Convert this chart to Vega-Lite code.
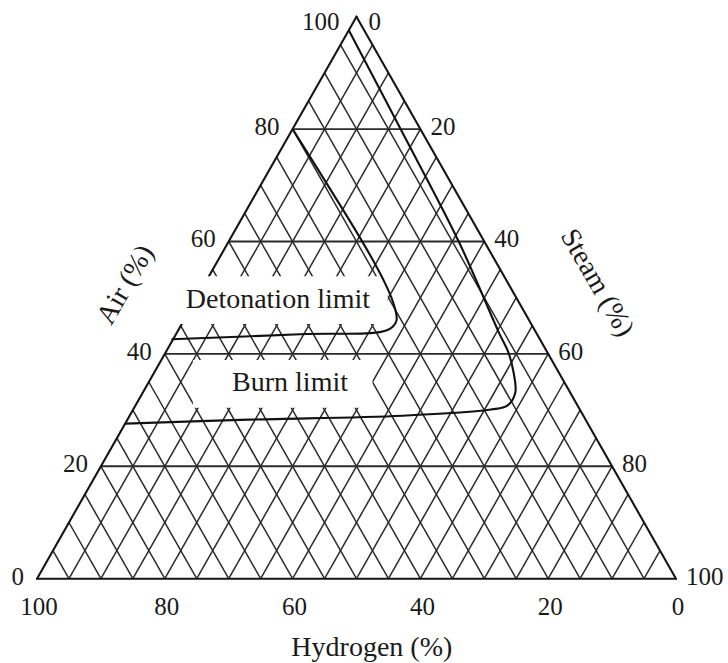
{
  "$schema": "https://vega.github.io/schema/vega-lite/v6.json",
  "width": 728,
  "height": 663,
  "padding": 0,
  "autosize": {"type": "none"},
  "background": "white",
  "config": {"view": {"stroke": null}, "text": {"font": "Liberation Serif", "color": "#1a1a1a"}},
  "datasets": {
    "grid": [
      {"x": 5, "y": 0, "x2": 52.5, "y2": 95},
      {"x": 10, "y": 0, "x2": 55, "y2": 90},
      {"x": 15, "y": 0, "x2": 57.5, "y2": 85},
      {"x": 20, "y": 0, "x2": 60, "y2": 80},
      {"x": 25, "y": 0, "x2": 62.5, "y2": 75},
      {"x": 30, "y": 0, "x2": 65, "y2": 70},
      {"x": 35, "y": 0, "x2": 67.5, "y2": 65},
      {"x": 40, "y": 0, "x2": 70, "y2": 60},
      {"x": 45, "y": 0, "x2": 72.5, "y2": 55},
      {"x": 50, "y": 0, "x2": 75, "y2": 50},
      {"x": 55, "y": 0, "x2": 77.5, "y2": 45},
      {"x": 60, "y": 0, "x2": 80, "y2": 40},
      {"x": 65, "y": 0, "x2": 82.5, "y2": 35},
      {"x": 70, "y": 0, "x2": 85, "y2": 30},
      {"x": 75, "y": 0, "x2": 87.5, "y2": 25},
      {"x": 80, "y": 0, "x2": 90, "y2": 20},
      {"x": 85, "y": 0, "x2": 92.5, "y2": 15},
      {"x": 90, "y": 0, "x2": 95, "y2": 10},
      {"x": 95, "y": 0, "x2": 97.5, "y2": 5},
      {"x": 5, "y": 0, "x2": 2.5, "y2": 5},
      {"x": 10, "y": 0, "x2": 5, "y2": 10},
      {"x": 15, "y": 0, "x2": 7.5, "y2": 15},
      {"x": 20, "y": 0, "x2": 10, "y2": 20},
      {"x": 25, "y": 0, "x2": 12.5, "y2": 25},
      {"x": 30, "y": 0, "x2": 15, "y2": 30},
      {"x": 35, "y": 0, "x2": 17.5, "y2": 35},
      {"x": 40, "y": 0, "x2": 20, "y2": 40},
      {"x": 45, "y": 0, "x2": 22.5, "y2": 45},
      {"x": 50, "y": 0, "x2": 25, "y2": 50},
      {"x": 55, "y": 0, "x2": 27.5, "y2": 55},
      {"x": 60, "y": 0, "x2": 30, "y2": 60},
      {"x": 65, "y": 0, "x2": 32.5, "y2": 65},
      {"x": 70, "y": 0, "x2": 35, "y2": 70},
      {"x": 75, "y": 0, "x2": 37.5, "y2": 75},
      {"x": 80, "y": 0, "x2": 40, "y2": 80},
      {"x": 85, "y": 0, "x2": 42.5, "y2": 85},
      {"x": 90, "y": 0, "x2": 45, "y2": 90},
      {"x": 95, "y": 0, "x2": 47.5, "y2": 95}
    ],
    "major": [
      {"x": 10, "y": 20, "x2": 90, "y2": 20},
      {"x": 20, "y": 40, "x2": 80, "y2": 40},
      {"x": 30, "y": 60, "x2": 70, "y2": 60},
      {"x": 40, "y": 80, "x2": 60, "y2": 80}
    ],
    "edges": [
      {"x": 0, "y": 0, "x2": 100, "y2": 0},
      {"x": 0, "y": 0, "x2": 50, "y2": 100},
      {"x": 100, "y": 0, "x2": 50, "y2": 100}
    ],
    "labelBoxes": [
      {"box": "Detonation limit", "x": 15, "x2": 54.9, "y": 45.3, "y2": 53.8},
      {"box": "Burn limit", "x": 24.4, "x2": 52.5, "y": 30.4, "y2": 38.9}
    ],
    "limits": [
      {"limit": "Detonation limit", "order": 1, "x": 40, "y": 80},
      {"limit": "Detonation limit", "order": 2, "x": 51.0, "y": 59.8},
      {"limit": "Detonation limit", "order": 3, "x": 54.2, "y": 53.2},
      {"limit": "Detonation limit", "order": 4, "x": 55.75, "y": 49.1},
      {"limit": "Detonation limit", "order": 5, "x": 56.25, "y": 45.9},
      {"limit": "Detonation limit", "order": 6, "x": 54.95, "y": 44.3},
      {"limit": "Detonation limit", "order": 7, "x": 41.2, "y": 43.5},
      {"limit": "Detonation limit", "order": 8, "x": 21.05, "y": 42.6},
      {"limit": "Burn limit", "order": 1, "x": 48.8, "y": 97.6},
      {"limit": "Burn limit", "order": 2, "x": 56.9, "y": 80},
      {"limit": "Burn limit", "order": 3, "x": 66, "y": 60},
      {"limit": "Burn limit", "order": 4, "x": 72.3, "y": 43.75},
      {"limit": "Burn limit", "order": 5, "x": 73.8, "y": 40.2},
      {"limit": "Burn limit", "order": 6, "x": 74.6, "y": 36.6},
      {"limit": "Burn limit", "order": 7, "x": 74.85, "y": 33.1},
      {"limit": "Burn limit", "order": 8, "x": 73.6, "y": 30.8},
      {"limit": "Burn limit", "order": 9, "x": 71.05, "y": 30.1},
      {"limit": "Burn limit", "order": 10, "x": 57.2, "y": 29.0},
      {"limit": "Burn limit", "order": 11, "x": 33.15, "y": 28.3},
      {"limit": "Burn limit", "order": 12, "x": 13.8, "y": 27.6}
    ],
    "airTicks": [
      {"label": "0", "x": 0, "y": 0},
      {"label": "20", "x": 10, "y": 20},
      {"label": "40", "x": 20, "y": 40},
      {"label": "60", "x": 30, "y": 60},
      {"label": "80", "x": 40, "y": 80}
    ],
    "steamTicks": [
      {"label": "20", "x": 60, "y": 80},
      {"label": "40", "x": 70, "y": 60},
      {"label": "60", "x": 80, "y": 40},
      {"label": "80", "x": 90, "y": 20},
      {"label": "100", "x": 100, "y": 0}
    ],
    "apexLeft": [{"label": "100", "x": 50, "y": 100}],
    "apexRight": [{"label": "0", "x": 50, "y": 100}],
    "hydrogenTicks": [
      {"label": "100", "x": 0, "y": 0},
      {"label": "80", "x": 20, "y": 0},
      {"label": "60", "x": 40, "y": 0},
      {"label": "40", "x": 60, "y": 0},
      {"label": "20", "x": 80, "y": 0},
      {"label": "0", "x": 100, "y": 0}
    ],
    "regionLabels": [
      {"text": "Detonation limit", "x": 37.7, "y": 49.6},
      {"text": "Burn limit", "x": 39.6, "y": 34.8}
    ],
    "airTitle": [{"text": "Air (%)", "x": 13.9, "y": 52.26}],
    "steamTitle": [{"text": "Steam (%)", "x": 87.6, "y": 52.6}],
    "hydrogenTitle": [{"text": "Hydrogen (%)", "x": 52.4, "y": -12.33}]
  },
  "encoding": {
    "x": {"field": "x", "type": "quantitative", "scale": {"domain": [-5.79, 108.14], "nice": false, "zero": false}, "axis": null},
    "y": {"field": "y", "type": "quantitative", "scale": {"domain": [-15.0, 102.97], "nice": false, "zero": false}, "axis": null}
  },
  "layer": [
    {
      "data": {"name": "grid"},
      "mark": {"type": "rule", "stroke": "#2b2b2b", "strokeWidth": 1.5},
      "encoding": {"x2": {"field": "x2"}, "y2": {"field": "y2"}}
    },
    {
      "data": {"name": "major"},
      "mark": {"type": "rule", "stroke": "#2b2b2b", "strokeWidth": 1.9},
      "encoding": {"x2": {"field": "x2"}, "y2": {"field": "y2"}}
    },
    {
      "data": {"name": "edges"},
      "mark": {"type": "rule", "stroke": "#151515", "strokeWidth": 2.1, "strokeCap": "round"},
      "encoding": {"x2": {"field": "x2"}, "y2": {"field": "y2"}}
    },
    {
      "data": {"name": "labelBoxes"},
      "mark": {"type": "rect", "fill": "white", "stroke": null},
      "encoding": {"x2": {"field": "x2"}, "y2": {"field": "y2"}}
    },
    {
      "data": {"name": "limits"},
      "mark": {"type": "line", "stroke": "#111111", "strokeWidth": 2.1, "interpolate": "catmull-rom"},
      "encoding": {"detail": {"field": "limit", "type": "nominal"}, "order": {"field": "order", "type": "quantitative"}}
    },
    {
      "data": {"name": "airTicks"},
      "mark": {"type": "text", "align": "right", "baseline": "middle", "dx": -13, "dy": -2, "fontSize": 25},
      "encoding": {"text": {"field": "label"}}
    },
    {
      "data": {"name": "steamTicks"},
      "mark": {"type": "text", "align": "left", "baseline": "middle", "dx": 10, "dy": -2, "fontSize": 25},
      "encoding": {"text": {"field": "label"}}
    },
    {
      "data": {"name": "apexLeft"},
      "mark": {"type": "text", "align": "right", "baseline": "middle", "dx": -17, "dy": 5, "fontSize": 25},
      "encoding": {"text": {"field": "label"}}
    },
    {
      "data": {"name": "apexRight"},
      "mark": {"type": "text", "align": "left", "baseline": "middle", "dx": 12, "dy": 5, "fontSize": 25},
      "encoding": {"text": {"field": "label"}}
    },
    {
      "data": {"name": "hydrogenTicks"},
      "mark": {"type": "text", "align": "center", "baseline": "middle", "dx": 2, "dy": 28, "fontSize": 25},
      "encoding": {"text": {"field": "label"}}
    },
    {
      "data": {"name": "regionLabels"},
      "mark": {"type": "text", "align": "center", "baseline": "middle", "fontSize": 28},
      "encoding": {"text": {"field": "text"}}
    },
    {
      "data": {"name": "airTitle"},
      "mark": {"type": "text", "align": "center", "baseline": "middle", "angle": -60, "fontSize": 28},
      "encoding": {"text": {"field": "text"}}
    },
    {
      "data": {"name": "steamTitle"},
      "mark": {"type": "text", "align": "center", "baseline": "middle", "angle": 60, "fontSize": 28},
      "encoding": {"text": {"field": "text"}}
    },
    {
      "data": {"name": "hydrogenTitle"},
      "mark": {"type": "text", "align": "center", "baseline": "middle", "fontSize": 28},
      "encoding": {"text": {"field": "text"}}
    }
  ]
}
